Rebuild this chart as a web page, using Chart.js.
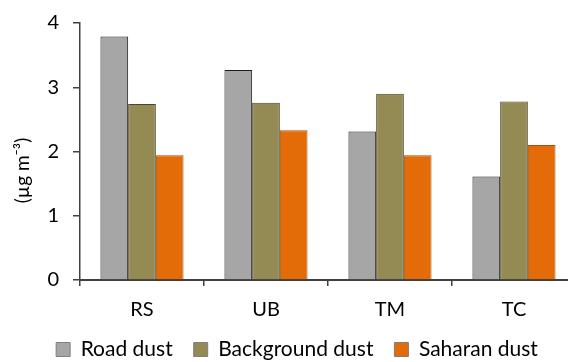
<!DOCTYPE html>
<html>
<head>
<meta charset="utf-8">
<script src="https://cdn.jsdelivr.net/npm/chart.js@4.4.1/dist/chart.umd.min.js"></script>
<style>
  html, body { margin: 0; padding: 0; background: #fff; overflow: hidden; }
  #wrap { width: 594px; height: 362px; }
</style>
</head>
<body>
<div id="wrap"><canvas id="c" width="594" height="362"></canvas></div>
<script>
// Sites and dust-source contributions (µg m-3)
const sites = ['RS', 'UB', 'TM', 'TC'];
const roadDust = [3.79, 3.27, 2.31, 1.61];
const backgroundDust = [2.74, 2.76, 2.90, 2.78];
const saharanDust = [1.94, 2.33, 1.94, 2.10];
const yTicks = [0, 1, 2, 3, 4];

const FONT = 'Lato, "Open Sans", sans-serif';
const AXIS_COLOR = '#404040';

new Chart(document.getElementById('c'), {
  type: 'bar',
  data: {
    labels: sites,
    datasets: [
      { label: 'Road dust', data: roadDust, backgroundColor: '#A6A6A6', borderColor: '#1a1a1a', borderWidth: 1 },
      { label: 'Background dust', data: backgroundDust, backgroundColor: '#948A54', borderColor: '#4a4528', borderWidth: 1 },
      { label: 'Saharan dust', data: saharanDust, backgroundColor: '#E36C09', borderColor: '#a84f08', borderWidth: 1 }
    ]
  },
  options: {
    responsive: false,
    animation: false,
    devicePixelRatio: 1,
    layout: { padding: { top: 0, right: 18, left: 18, bottom: -8 } },
    datasets: { bar: { categoryPercentage: 0.67, barPercentage: 1.0 } },
    scales: {
      x: {
        afterFit: (s) => { s.height = 38; },
        grid: { display: true, drawOnChartArea: false, offset: true, tickLength: 6, color: AXIS_COLOR, lineWidth: 1.5 },
        border: { display: true, color: AXIS_COLOR, width: 2 },
        ticks: { color: '#000', font: { family: FONT, size: 20 }, padding: 12 }
      },
      y: {
        min: 0, max: 4,
        afterBuildTicks: (s) => { s.ticks = yTicks.map(v => ({ value: v })); },
        afterFit: (s) => { s.width = 62; s.paddingTop = 23; },
        grid: { display: true, drawOnChartArea: false, tickLength: 7, color: AXIS_COLOR, lineWidth: 1.5 },
        border: { display: true, color: AXIS_COLOR, width: 1.5 },
        ticks: { color: '#000', font: { family: FONT, size: 20 }, padding: 14 },
        title: { display: true, text: '(µg m⁻³)\u2003\u2003\u2002', color: '#000', font: { family: FONT, size: 19 }, padding: { top: -7, bottom: 0 } }
      }
    },
    plugins: {
      tooltip: { enabled: false },
      legend: {
        position: 'bottom',
        labels: {
          color: '#000',
          font: { family: FONT, size: 21 },
          boxWidth: 14, boxHeight: 14, padding: 21,
          generateLabels: (chart) => chart.data.datasets.map((d, i) => ({
            text: d.label, fillStyle: d.backgroundColor, strokeStyle: '#7f7f7f',
            lineWidth: 1, datasetIndex: i, hidden: false, fontColor: '#000'
          }))
        }
      }
    }
  }
});
</script>
</body>
</html>
